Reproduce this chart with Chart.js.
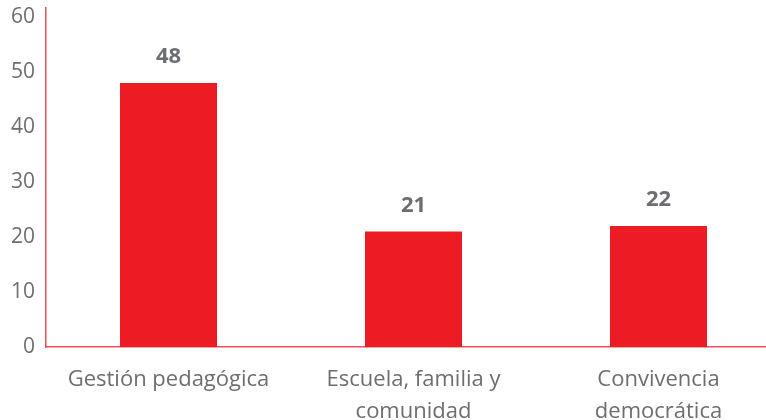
<!DOCTYPE html>
<html>
<head>
<meta charset="utf-8">
<script src="https://cdn.jsdelivr.net/npm/chart.js@4.4.1/dist/chart.umd.min.js"></script>
<style>
  html, body { margin: 0; padding: 0; background: #fff; overflow: hidden; }
  #wrap { position: relative; width: 781px; height: 420px; }
</style>
</head>
<body>
<div id="wrap"><canvas id="areas"></canvas></div>
<script>
const categories = [
    'Gestión pedagógica',
    ['Escuela, familia y', 'comunidad'],
    ['Convivencia', 'democrática'],
]
const values = [48, 21, 22]
const yTicks = [0, 10, 20, 30, 40, 50, 60]

const red = '#ED1C24'
const grey = '#6D6E71'
const font = "'Open Sans', sans-serif"

// value labels above each bar
const barValues = {
    id: 'barValues',
    afterDatasetsDraw(chart) {
        const ctx = chart.ctx
        const meta = chart.getDatasetMeta(0)
        ctx.save()
        ctx.fillStyle = grey
        ctx.font = `bold 22px ${font}`
        ctx.textAlign = 'center'
        ctx.textBaseline = 'middle'
        meta.data.forEach((bar, i) => {
            ctx.fillText(values[i], bar.x, bar.y - 26)
        })
        ctx.restore()
    }
}

const ctx = document.getElementById('areas').getContext('2d')
new Chart(ctx, {
    type: 'bar',
    data: {
        labels: categories,
        datasets: [{
            data: values,
            backgroundColor: red,
            borderWidth: 0,
            categoryPercentage: 1,
            barPercentage: 0.396,
        }],
    },
    options: {
        responsive: true,
        maintainAspectRatio: false,
        animation: false,
        layout: {padding: {top: 8, right: 0, bottom: 0, left: 0}},
        plugins: {
            legend: {display: false},
            tooltip: {enabled: false},
        },
        scales: {
            x: {
                grid: {display: false, drawTicks: false},
                border: {display: true, color: '#EF4E54', width: 1.5},
                ticks: {
                    color: grey,
                    font: {family: font, size: 22, lineHeight: 1.45},
                    padding: 17,
                    maxRotation: 0,
                    autoSkip: false,
                },
                afterFit(scale) {
                    scale.height = 73
                    scale.paddingLeft = 0
                    scale.paddingRight = 0
                },
            },
            y: {
                min: 0,
                max: 61.64,
                grid: {display: false, drawTicks: false},
                border: {display: true, color: '#EF4E54', width: 1.5},
                ticks: {
                    stepSize: 10,
                    color: grey,
                    font: {family: font, size: 21},
                    padding: 11,
                },
                afterBuildTicks(scale) {
                    scale.ticks = yTicks.map(v => ({value: v}))
                },
                afterFit(scale) {
                    scale.width = 46
                    scale.paddingTop = 0
                    scale.paddingBottom = 0
                },
            },
        },
    },
    plugins: [barValues],
})
</script>
</body>
</html>
